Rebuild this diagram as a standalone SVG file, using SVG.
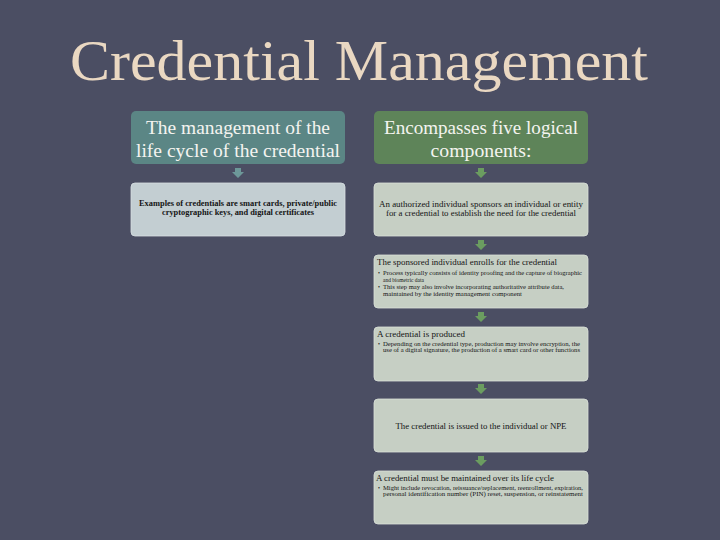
<svg xmlns="http://www.w3.org/2000/svg" width="720" height="540" viewBox="0 0 720 540">
<style>
text{font-family:"Liberation Serif","DejaVu Serif","Times New Roman",serif}
.title{font-size:58px;fill:#ead8c2}
.hdr{font-size:19px;fill:#f4f4f0;text-anchor:middle}
.body{font-size:8px;fill:#141414;text-anchor:middle}
.bold{font-weight:bold}
.h2{font-size:9px;fill:#141414}
.bul{font-size:5.5px;fill:#141414}
.lbox{fill:#c3ced2;stroke:#d8dfe2;stroke-width:0.8}
.gbox{fill:#c6cfc4;stroke:#dbe1d9;stroke-width:0.8}
.tealh{fill:#5b8685}
.greenh{fill:#5e8459}
.la{fill:#6d9899}
.ga{fill:#6b9d60}
</style>
<defs>
<path id="arr" d="M-3,-5 h6 v4 h3 l-6,6 l-6,-6 h3 z"/>
</defs>
<rect width="720" height="540" fill="#4b4e63"/>
<text class="title" x="70" y="80" textLength="578" lengthAdjust="spacingAndGlyphs">Credential Management</text>

<g id="left-header">
<rect class="tealh" x="131" y="111" width="214" height="53" rx="5"/>
<text class="hdr" x="238" y="134" textLength="184" lengthAdjust="spacingAndGlyphs">The management of the</text>
<text class="hdr" x="238" y="157" textLength="204" lengthAdjust="spacingAndGlyphs">life cycle of the credential</text>
</g>
<g id="left-body">
<rect class="lbox" x="131" y="183" width="214" height="53" rx="4"/>
<text class="body bold" x="238" y="206" textLength="198" lengthAdjust="spacingAndGlyphs">Examples of credentials are smart cards, private/public</text>
<text class="body bold" x="238" y="215" textLength="152" lengthAdjust="spacingAndGlyphs">cryptographic keys, and digital certificates</text>
</g>

<g id="right-header">
<rect class="greenh" x="374" y="111" width="214" height="53" rx="5"/>
<text class="hdr" x="481" y="134" textLength="194" lengthAdjust="spacingAndGlyphs">Encompasses five logical</text>
<text class="hdr" x="481" y="157" textLength="101" lengthAdjust="spacingAndGlyphs">components:</text>
</g>

<g id="step1">
<rect class="gbox" x="374" y="183" width="214" height="53" rx="4"/>
<text class="body" x="481" y="207" textLength="204" lengthAdjust="spacingAndGlyphs">An authorized individual sponsors an individual or entity</text>
<text class="body" x="481" y="216" textLength="190" lengthAdjust="spacingAndGlyphs">for a credential to establish the need for the credential</text>
</g>

<g id="step2">
<rect class="gbox" x="374" y="255" width="214" height="53" rx="4"/>
<text class="h2" x="377" y="265" textLength="180" lengthAdjust="spacingAndGlyphs">The sponsored individual enrolls for the credential</text>
<text class="bul" x="378" y="275">•</text>
<text class="bul" x="383" y="275" textLength="199" lengthAdjust="spacingAndGlyphs">Process typically consists of identity proofing and the capture of biographic</text>
<text class="bul" x="383" y="282">and biometric data</text>
<text class="bul" x="378" y="289">•</text>
<text class="bul" x="383" y="289" textLength="181" lengthAdjust="spacingAndGlyphs">This step may also involve incorporating authoritative attribute data,</text>
<text class="bul" x="383" y="296" textLength="139" lengthAdjust="spacingAndGlyphs">maintained by the identity management component</text>
</g>

<g id="step3">
<rect class="gbox" x="374" y="327" width="214" height="54" rx="4"/>
<text class="h2" x="377" y="337" textLength="88" lengthAdjust="spacingAndGlyphs">A credential is produced</text>
<text class="bul" x="378" y="346">•</text>
<text class="bul" x="383" y="346" textLength="197" lengthAdjust="spacingAndGlyphs">Depending on the credential type, production may involve encryption, the</text>
<text class="bul" x="383" y="352" textLength="197" lengthAdjust="spacingAndGlyphs">use of a digital signature, the production of a smart card or other functions</text>
</g>

<g id="step4">
<rect class="gbox" x="374" y="399" width="214" height="53" rx="4"/>
<text class="body" x="481" y="429" textLength="171" lengthAdjust="spacingAndGlyphs">The credential is issued to the individual or NPE</text>
</g>

<g id="step5">
<rect class="gbox" x="374" y="471" width="214" height="53" rx="4"/>
<text class="h2" x="376" y="481" textLength="178" lengthAdjust="spacingAndGlyphs">A credential must be maintained over its life cycle</text>
<text class="bul" x="378" y="490">•</text>
<text class="bul" x="383" y="490" textLength="200" lengthAdjust="spacingAndGlyphs">Might include revocation, reissuance/replacement, reenrollment, expiration,</text>
<text class="bul" x="383" y="496" textLength="200" lengthAdjust="spacingAndGlyphs">personal identification number (PIN) reset, suspension, or reinstatement</text>
</g>

<g id="connectors">
<use href="#arr" class="la" x="238" y="173"/>
<use href="#arr" class="ga" x="481" y="173"/>
<use href="#arr" class="ga" x="481" y="245"/>
<use href="#arr" class="ga" x="481" y="317"/>
<use href="#arr" class="ga" x="481" y="389"/>
<use href="#arr" class="ga" x="481" y="461"/>
</g>
</svg>
